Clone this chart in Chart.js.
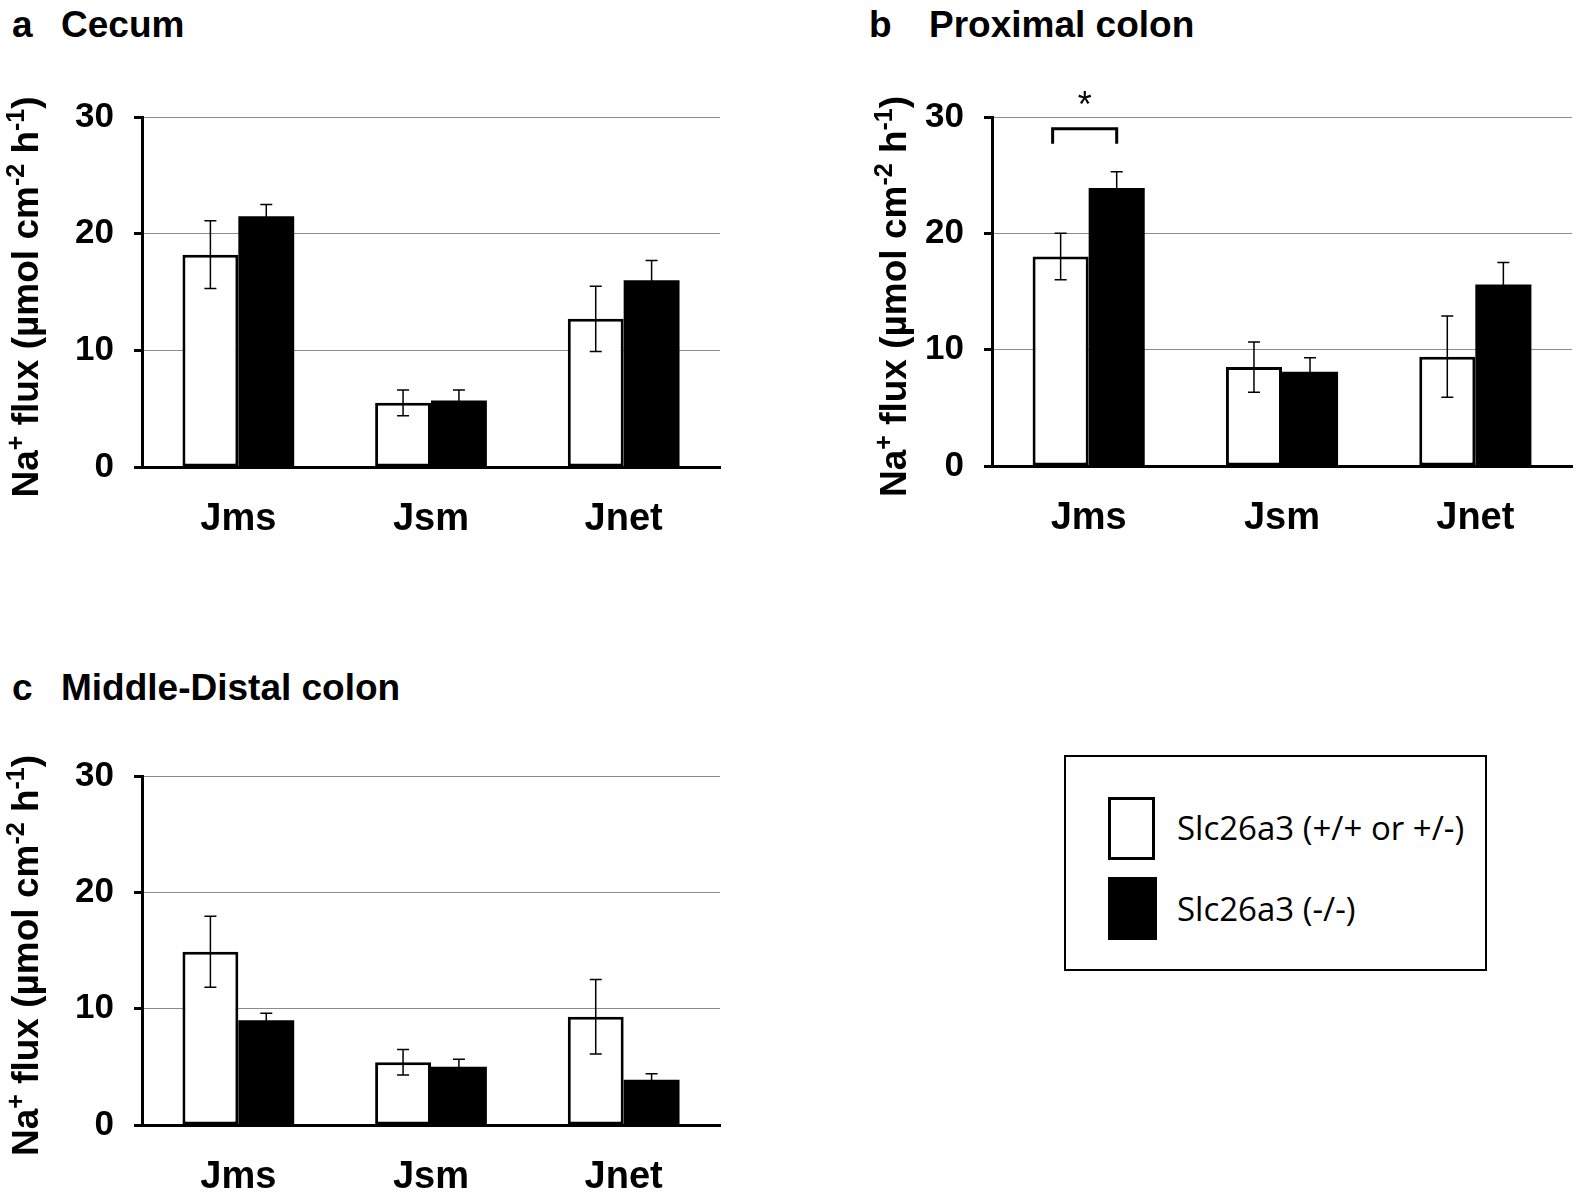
<!DOCTYPE html>
<html>
<head>
<meta charset="utf-8">
<script src="https://cdn.jsdelivr.net/npm/chart.js@4.4.1/dist/chart.umd.min.js"></script>
<style>
  body { margin:0; background:#fff; }
  #page { position:relative; width:1594px; height:1203px; overflow:hidden; font-family:"Liberation Sans", Arial, sans-serif; }
  .box { position:absolute; }
  .ptitle { position:absolute; font-weight:bold; font-size:37px; line-height:1; color:#000; }
  #legend { position:absolute; left:1064px; top:755px; width:419px; height:212px; border:2px solid #000; }
  .sw { position:absolute; left:42px; box-sizing:border-box; }
  .lt { position:absolute; left:111px; font-family:"Open Sans", "Noto Sans", sans-serif; font-size:33px; line-height:1; color:#000; }
</style>
</head>
<body>
<div id="page">
  <div class="ptitle" style="left:12px;top:6px;">a</div>
  <div class="ptitle" style="left:61px;top:6px;">Cecum</div>
  <div class="ptitle" style="left:869px;top:6px;">b</div>
  <div class="ptitle" style="left:929px;top:6px;">Proximal colon</div>
  <div class="ptitle" style="left:12px;top:669px;">c</div>
  <div class="ptitle" style="left:61px;top:669px;">Middle-Distal colon</div>

  <div class="box" style="left:0;top:0;"><canvas id="chartA" width="740" height="560"></canvas></div>
  <div class="box" style="left:850px;top:0;"><canvas id="chartB" width="744" height="560"></canvas></div>
  <div class="box" style="left:0;top:650px;"><canvas id="chartC" width="740" height="553"></canvas></div>

  <div id="legend">
    <div class="sw" style="top:40px;width:47px;height:63px;border:3px solid #000;background:#fff;"></div>
    <div class="lt" style="top:54px;">Slc26a3 (+/+ or +/-)</div>
    <div class="sw" style="top:120px;width:49px;height:63px;background:#000;"></div>
    <div class="lt" style="top:135px;">Slc26a3 (-/-)</div>
  </div>
</div>
<script>
// Na+ flux, mean and error
const categories = ['Jms', 'Jsm', 'Jnet'];
const yTicks = [0, 10, 20, 30];
const legendLabels = ['Slc26a3 (+/+ or +/-)', 'Slc26a3 (-/-)'];

const cecumWt = [18.2, 5.5, 12.7];
const cecumWtErr = [2.9, 1.1, 2.8];
const cecumKo = [21.5, 5.7, 16.0];
const cecumKoErr = [1.0, 0.9, 1.7];

const proxWt = [18.0, 8.5, 9.4];
const proxWtErr = [2.0, 2.15, 3.5];
const proxKo = [23.9, 8.1, 15.6];
const proxKoErr = [1.4, 1.2, 1.9];

const distWt = [14.9, 5.4, 9.3];
const distWtErr = [3.05, 1.1, 3.2];
const distKo = [9.0, 5.0, 3.9];
const distKoErr = [0.6, 0.65, 0.5];

const FONT = 'Liberation Sans, Arial, sans-serif';

// error bars from each dataset's err array
const errorBars = {
  id: 'errorBars',
  afterDatasetsDraw(chart) {
    const ctx = chart.ctx;
    const y = chart.scales.y;
    ctx.save();
    ctx.strokeStyle = '#000';
    ctx.lineWidth = 1.5;
    chart.data.datasets.forEach((ds, i) => {
      const meta = chart.getDatasetMeta(i);
      meta.data.forEach((bar, j) => {
        const v = ds.data[j], e = ds.err[j];
        const top = y.getPixelForValue(v + e);
        const bot = y.getPixelForValue(v - e);
        ctx.beginPath();
        ctx.moveTo(bar.x, top); ctx.lineTo(bar.x, bot);
        ctx.moveTo(bar.x - 6, top); ctx.lineTo(bar.x + 6, top);
        ctx.moveTo(bar.x - 6, bot); ctx.lineTo(bar.x + 6, bot);
        ctx.stroke();
      });
    });
    ctx.restore();
  }
};

// rotated y title with superscripts
const yTitle = {
  id: 'yTitle',
  afterDraw(chart, args, opts) {
    const ctx = chart.ctx;
    const a = chart.chartArea;
    const segs = [
      ['Na', false], ['+', true], [' flux (\u00b5mol cm', false], ['-2', true],
      [' h', false], ['-1', true], [')', false]
    ];
    const big = 'bold 37px ' + FONT, small = 'bold 25px ' + FONT;
    ctx.save();
    let total = 0;
    segs.forEach(s => { ctx.font = s[1] ? small : big; total += ctx.measureText(s[0]).width; });
    ctx.translate(opts.x, (a.top + a.bottom) / 2 + opts.dy);
    ctx.rotate(-Math.PI / 2);
    ctx.fillStyle = '#000';
    ctx.textBaseline = 'alphabetic';
    let x = -total / 2;
    segs.forEach(s => {
      ctx.font = s[1] ? small : big;
      ctx.fillText(s[0], x, s[1] ? 13 - 14 : 13);
      x += ctx.measureText(s[0]).width;
    });
    ctx.restore();
  }
};

// significance bracket between two bars of one category
const bracket = {
  id: 'bracket',
  afterDraw(chart, args, opts) {
    if (!opts || opts.index == null) return;
    const ctx = chart.ctx;
    const y = chart.scales.y;
    const l = chart.getDatasetMeta(0).data[opts.index].x - 8;
    const r = chart.getDatasetMeta(1).data[opts.index].x;
    const yt = y.getPixelForValue(opts.top), yb = y.getPixelForValue(opts.bottom);
    ctx.save();
    ctx.strokeStyle = '#000';
    ctx.lineWidth = 3;
    ctx.beginPath();
    ctx.moveTo(l, yb); ctx.lineTo(l, yt); ctx.lineTo(r, yt); ctx.lineTo(r, yb);
    ctx.stroke();
    ctx.fillStyle = '#000';
    ctx.font = '36px ' + FONT;
    ctx.textAlign = 'center';
    ctx.textBaseline = 'middle';
    ctx.fillText('*', (l + r) / 2, y.getPixelForValue(opts.star) + 9);
    ctx.restore();
  }
};

function makeChart(id, wt, wtErr, ko, koErr, pad, titleX, extra) {
  return new Chart(document.getElementById(id), {
    type: 'bar',
    data: {
      labels: categories,
      datasets: [
        { label: legendLabels[0], data: wt, err: wtErr, backgroundColor: '#fff', borderColor: '#000',
          borderWidth: 3, borderSkipped: false },
        { label: legendLabels[1], data: ko, err: koErr, backgroundColor: '#000', borderColor: '#000',
          borderWidth: 0 }
      ]
    },
    options: {
      responsive: false,
      animation: false,
      layout: { padding: pad },
      datasets: { bar: { categoryPercentage: 0.58, barPercentage: 1.0 } },
      plugins: {
        legend: { display: false },
        tooltip: { enabled: false },
        yTitle: { x: titleX, dy: 5 },
        bracket: extra || {}
      },
      scales: {
        x: {
          grid: { display: false, drawTicks: false },
          border: { display: true, color: '#000', width: 3 },
          ticks: { color: '#000', padding: 30, font: { family: FONT, size: 38, weight: 'bold' } },
          afterFit(s) { s.height = 76; }
        },
        y: {
          min: 0, max: 30,
          afterBuildTicks(s) { s.ticks = yTicks.map(v => ({ value: v })); },
          grid: { color: '#8c8c8c', lineWidth: 1, tickColor: '#000', tickLength: 8, tickWidth: 3 },
          border: { display: true, color: '#000', width: 3 },
          ticks: { color: '#000', padding: 20, font: { family: FONT, size: 35, weight: 'bold' } },
          afterFit(s) { s.width = 72; }
        }
      }
    },
    plugins: [errorBars, yTitle, bracket]
  });
}

makeChart('chartA', cecumWt, cecumWtErr, cecumKo, cecumKoErr,
  { left: 70, right: 20, top: 117, bottom: 17 }, 25);
makeChart('chartB', proxWt, proxWtErr, proxKo, proxKoErr,
  { left: 70, right: 22, top: 117, bottom: 18 }, 43,
  { index: 0, top: 29.0, bottom: 27.7, star: 31.6 });
makeChart('chartC', distWt, distWtErr, distKo, distKoErr,
  { left: 70, right: 20, top: 126, bottom: 2 }, 25);
</script>
</body>
</html>
